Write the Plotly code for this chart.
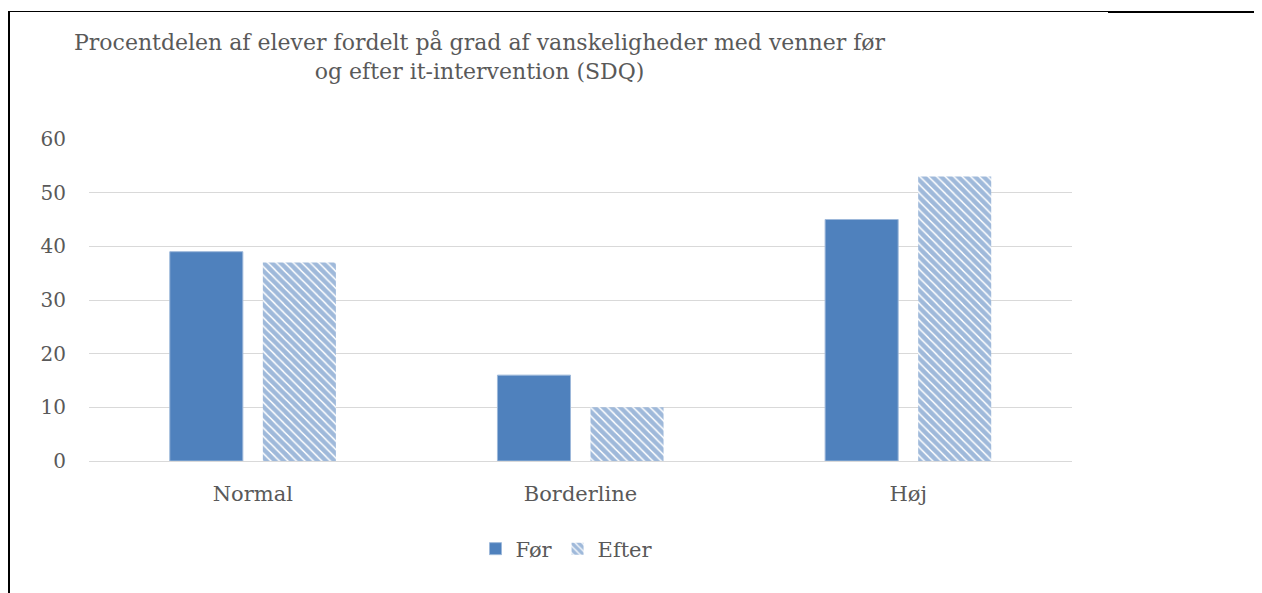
import plotly.graph_objects as go

categories = ["Normal", "Borderline", "Høj"]
series_names = ["Før", "Efter"]
foer_values = [39, 16, 45]
efter_values = [37, 10, 53]
y_ticks = [0, 10, 20, 30, 40, 50, 60]
title_text = "Procentdelen af elever fordelt på grad af vanskeligheder med venner før<br>og efter it-intervention (SDQ)"

OFF = 8  # page body margin
W, H = 1262 - OFF, 593 - OFF
BLUE = "#4F81BD"
TXT = "#595959"
FONT = "DejaVu Serif"

def px(x):
    return (x - OFF) / W

def py(y):
    return 1 - (y - OFF) / H

fig = go.Figure()
fig.add_trace(go.Bar(
    x=categories, y=foer_values, name=series_names[0],
    marker=dict(color=BLUE, line=dict(color="#9DB8DA", width=1)),
))
fig.add_trace(go.Bar(
    x=categories, y=efter_values, name=series_names[1],
    marker=dict(color="white", line=dict(width=0),
                pattern=dict(shape="\\", fgcolor="#3F73B5", bgcolor="white",
                             size=6, solidity=0.75, fillmode="overlay")),
))

fig.update_layout(
    width=W, height=H, autosize=False,
    margin=dict(l=0, r=0, t=0, b=0),
    paper_bgcolor="white", plot_bgcolor="white",
    barmode="group", bargap=0.432, bargroupgap=0.215,
    font=dict(family=FONT, color=TXT, size=17),
    showlegend=True,
    legend=dict(orientation="h", x=px(567), xanchor="center", y=py(549), yanchor="middle",
                font=dict(family=FONT, size=21, color=TXT), itemwidth=30,
                tracegroupgap=0),
    xaxis=dict(domain=[px(89), px(1072)], showgrid=False, showline=True,
               linecolor="#D9D9D9", linewidth=1, ticks="", automargin=False,
               tickfont=dict(family=FONT, size=21, color=TXT), ticklabelstandoff=14),
    yaxis=dict(domain=[py(461), py(139)], range=[0, 60], tickvals=y_ticks,
               showgrid=True, gridcolor="#D9D9D9", gridwidth=1, zeroline=False,
               showline=False, ticks="", automargin=False,
               tickfont=dict(family=FONT, size=20, color=TXT), ticklabelstandoff=22),
    annotations=[dict(text=title_text, x=px(480), y=py(56), xref="paper", yref="paper",
                      xanchor="center", yanchor="middle", showarrow=False, align="center",
                      font=dict(family=FONT, size=22, color=TXT))],
    shapes=[
        dict(type="line", xref="paper", yref="paper", x0=px(9), x1=px(9), y0=py(11), y1=0,
             line=dict(color="black", width=2)),
        dict(type="line", xref="paper", yref="paper", x0=px(8), x1=px(1108), y0=py(11.5), y1=py(11.5),
             line=dict(color="black", width=1)),
        dict(type="line", xref="paper", yref="paper", x0=px(1108), x1=1, y0=py(12), y1=py(12),
             line=dict(color="black", width=2)),
    ],
)

fig.write_html("out.html")
